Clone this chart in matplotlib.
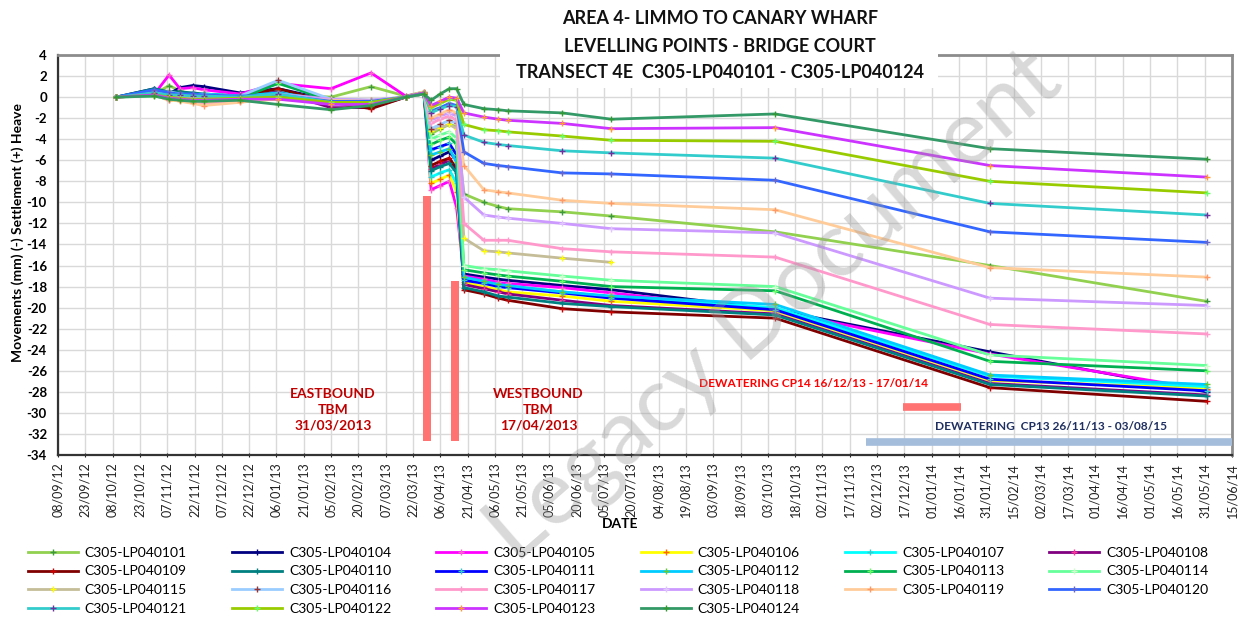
import matplotlib
matplotlib.use("Agg")
import matplotlib.pyplot as plt
import numpy as np
import pandas as pd
from matplotlib.patches import Rectangle

plt.rcParams['font.family'] = ['Lato', 'DejaVu Sans']

# ---------------- data ----------------
survey_dates = pd.to_datetime([
    "2012-10-10", "2012-10-31", "2012-11-08", "2012-11-14", "2012-11-21",
    "2012-11-27", "2012-12-17", "2013-01-07", "2013-02-05", "2013-02-27",
    "2013-03-18", "2013-03-28", "2013-04-01", "2013-04-06", "2013-04-11",
    "2013-04-15", "2013-04-19", "2013-04-30", "2013-05-08", "2013-05-13",
    "2013-06-12", "2013-07-09", "2013-10-07", "2014-02-02", "2014-06-01"])

nan = np.nan
lp101 = [0, 0.3, 1.1, 0.6, 0.2, 0.0, 0.0, 0.3, 0.0, 1.0, 0.1, 0.5, -3.5, -3.0, -2.6, -2.8, -9.2, -10.0, -10.4, -10.6, -10.9, -11.3, -12.8, -16.0, -19.4]
lp104 = [0, 0.8, 0.3, 0.9, 1.1, 1.0, 0.4, 0.8, -0.3, -0.5, 0.0, 0.4, -6.0, -5.6, -5.2, -6.0, -16.8, -17.1, -17.3, -17.4, -17.9, -18.3, -20.2, -24.2, -28.0]
lp105 = [0, 0.3, 2.1, 0.8, 0.9, 0.7, 0.3, 1.3, 0.8, 2.3, 0.1, 0.4, -8.8, -8.4, -8.0, -10.5, -17.0, -17.3, -17.6, -17.7, -18.1, -18.6, -20.3, -24.4, -27.8]
lp106 = [0, 0.2, -0.3, -0.3, -0.2, -0.5, -0.4, -0.2, -0.5, -0.6, 0.0, 0.4, -8.2, -7.8, -7.4, -9.0, -17.6, -18.0, -18.3, -18.5, -18.9, -19.4, -20.3, -26.9, -27.7]
lp107 = [0, 0.4, 0.3, 0.2, 0.1, 0.2, 0.0, 0.6, -0.3, -0.4, 0.0, 0.4, -7.6, -7.2, -6.9, -8.2, -17.2, -17.6, -17.9, -18.0, -18.5, -19.0, -20.0, -26.5, -27.5]
lp108 = [0, 0.3, 0.0, 0.0, 0.3, 0.2, 0.0, 0.5, -1.0, -1.0, 0.0, 0.3, -6.8, -6.4, -6.0, -7.0, -17.8, -18.2, -18.5, -18.7, -19.3, -19.8, -20.6, -27.2, -28.3]
lp109 = [0, 0.5, 0.3, 0.4, 0.3, 0.2, 0.1, 0.8, -0.5, -1.1, 0.0, 0.4, -6.5, -6.1, -5.8, -6.8, -18.3, -18.7, -19.1, -19.3, -20.1, -20.4, -21.0, -27.6, -28.9]
lp110 = [0, 0.8, 0.5, 0.5, 0.4, 0.3, 0.1, 0.2, -0.4, -0.6, 0.0, 0.4, -7.0, -6.6, -6.3, -7.2, -18.1, -18.5, -18.9, -19.0, -19.6, -19.9, -20.7, -27.3, -28.4]
lp111 = [0, 0.5, 0.2, 0.1, 0.3, 0.1, 0.0, 0.3, -0.5, -0.5, 0.0, 0.4, -5.0, -4.7, -4.4, -5.5, -17.4, -17.7, -18.0, -18.1, -18.6, -19.1, -20.2, -26.8, -27.9]
lp112 = [0, 0.6, 0.4, 0.3, 0.2, 0.3, 0.1, 0.4, -0.3, -0.4, 0.0, 0.4, -5.5, -5.2, -4.9, -6.2, -17.1, -17.5, -17.8, -17.9, -18.5, -18.9, -19.7, -26.4, -27.3]
lp113 = [0, 0.2, 0.0, -0.2, -0.3, -0.2, -0.1, 1.3, -0.3, -0.5, 0.0, 0.3, -4.5, -4.1, -3.8, -4.5, -16.4, -16.7, -16.9, -17.0, -17.5, -18.0, -18.4, -25.1, -26.0]
lp114 = [0, 0.1, -0.2, -0.3, -0.4, -0.4, -0.2, 0.0, -0.6, -0.7, 0.0, 0.3, -4.0, -3.6, -3.3, -3.9, -16.0, -16.3, -16.4, -16.5, -17.0, -17.4, -18.0, -24.5, -25.5]
lp115 = [0, 0.2, 0.0, 0.0, -0.1, -0.2, 0.0, 0.0, -0.2, -0.3, 0.0, 0.3, -3.2, -2.9, -2.6, -3.0, -13.4, -14.6, -14.7, -14.8, -15.3, -15.7, nan, nan, nan]
lp116 = [0, 0.4, 0.5, 0.3, 0.2, 0.2, 0.1, 1.6, -0.2, -0.3, 0.0, 0.4, -3.0, -2.6, -2.2, -2.5, nan, nan, nan, nan, nan, nan, nan, nan, nan]
lp117 = [0, 0.2, -0.3, -0.2, -0.5, -0.7, -0.4, 0.0, -0.4, -0.5, 0.0, 0.5, -2.5, -2.1, -1.8, -2.2, -12.0, -13.6, -13.6, -13.6, -14.4, -14.7, -15.2, -21.6, -22.5]
lp118 = [0, 0.3, 0.1, 0.1, 0.0, -0.2, -0.1, 0.3, -0.2, -0.3, 0.0, 0.4, -2.2, -1.8, -1.5, -1.8, -9.5, -11.2, -11.4, -11.5, -12.0, -12.5, -12.9, -19.1, -19.8]
lp119 = [0, 0.2, -0.2, -0.4, -0.6, -0.8, -0.5, -0.1, -0.3, -0.4, 0.0, 0.5, -2.0, -1.6, -1.2, -1.5, -6.5, -8.8, -9.0, -9.1, -9.8, -10.1, -10.7, -16.2, -17.1]
lp120 = [0, 0.7, 0.4, 0.3, 0.3, 0.2, 0.1, 0.2, -0.4, -0.4, 0.0, 0.4, -1.3, -1.0, -0.6, -0.8, -5.2, -6.3, -6.5, -6.6, -7.2, -7.3, -7.9, -12.8, -13.8]
lp121 = [0, 0.4, 0.2, 0.2, 0.1, 0.1, 0.0, 0.3, -0.5, -0.5, 0.0, 0.4, -1.5, -1.1, -0.8, -0.9, -3.6, -4.3, -4.5, -4.6, -5.1, -5.3, -5.8, -10.1, -11.2]
lp122 = [0, 0.2, 0.0, -0.1, -0.2, -0.2, -0.1, 0.0, -0.5, -0.5, 0.0, 0.4, -1.0, -0.6, -0.2, -0.3, -2.6, -3.1, -3.2, -3.3, -3.7, -4.1, -4.2, -8.0, -9.1]
lp123 = [0, 0.2, -0.1, -0.2, -0.3, -0.3, -0.2, -0.2, -0.7, -0.7, 0.0, 0.4, -0.8, -0.4, 0.0, -0.1, -1.5, -1.9, -2.1, -2.2, -2.5, -3.0, -2.9, -6.5, -7.6]
lp124 = [0, 0.1, -0.2, -0.3, -0.4, -0.4, -0.3, -0.7, -1.2, -0.8, 0.0, 0.3, -0.3, 0.3, 0.8, 0.8, -0.7, -1.1, -1.2, -1.3, -1.5, -2.1, -1.6, -4.9, -5.9]

series_labels = ["C305-LP040101", "C305-LP040104", "C305-LP040105", "C305-LP040106",
                 "C305-LP040107", "C305-LP040108", "C305-LP040109", "C305-LP040110",
                 "C305-LP040111", "C305-LP040112", "C305-LP040113", "C305-LP040114",
                 "C305-LP040115", "C305-LP040116", "C305-LP040117", "C305-LP040118",
                 "C305-LP040119", "C305-LP040120", "C305-LP040121", "C305-LP040122",
                 "C305-LP040123", "C305-LP040124"]
series_values = [lp101, lp104, lp105, lp106, lp107, lp108, lp109, lp110, lp111, lp112,
                 lp113, lp114, lp115, lp116, lp117, lp118, lp119, lp120, lp121, lp122,
                 lp123, lp124]
line_colors = ["#92D050", "#000080", "#FF00FF", "#FFFF00", "#00FFFF", "#800080",
               "#800000", "#008080", "#0000FF", "#00CCFF", "#00B050", "#66FF99",
               "#C4BD97", "#99CCFF", "#FF99CC", "#CC99FF", "#FFCC99", "#3366FF",
               "#33CCCC", "#99CC00", "#CC33FF", "#339966"]
marker_colors = ["#3C9A3C", "#000080", "#FF66CC", "#FF6600", "#33CCCC", "#FF3399",
                 "#CC0000", "#008080", "#33CCCC", "#66CC33", "#66FF66", "#CCFFCC",
                 "#FFFF00", "#993333", "#FF99CC", "#E0C8FF", "#FF9966", "#6666CC",
                 "#7030A0", "#66FF66", "#FF9933", "#339933"]

tick_start = "2012-09-08"
tick_end = "2014-06-15"
y_ticks = list(range(-34, 5, 2))

tbm_dates = pd.to_datetime(["2013-03-30", "2013-04-14"])
tbm_bar_tops = [-9.4, -17.5]
tbm_bar_bottom = -32.7
tbm_texts = ["EASTBOUND\nTBM\n31/03/2013", "WESTBOUND\nTBM\n17/04/2013"]
tbm_text_dates = pd.to_datetime(["2013-02-06", "2013-05-30"])

cp14_span = pd.to_datetime(["2013-12-16", "2014-01-17"])
cp14_level = -29.4
cp13_span = pd.to_datetime(["2013-11-26", "2015-08-03"])
cp13_level = -32.8

# ---------------- figure ----------------
W, H = 1242, 617
fig = plt.figure(figsize=(W / 100, H / 100), dpi=100)
ax = fig.add_axes([58 / W, 1 - 455 / H, (1232 - 58) / W, 400 / H])

handles = []
for vals, lab, lc, mc in zip(series_values, series_labels, line_colors, marker_colors):
    h, = ax.plot(survey_dates, vals, color=lc, lw=2.0, marker='+', ms=5,
                 mec=mc, mew=1.0, label=lab, zorder=3)
    handles.append(h)

# TBM bars
bar_w = 4.4
for d, top in zip(tbm_dates, tbm_bar_tops):
    ax.bar(d, top - tbm_bar_bottom, bottom=tbm_bar_bottom, width=bar_w,
           color="#FF7373", edgecolor='none', zorder=4)

for d, t in zip(tbm_text_dates, tbm_texts):
    ax.text(d, -29.7, t, ha='center', va='center', color="#C00000",
            fontsize=10, fontweight='bold', linespacing=1.35, zorder=5)

ax.plot(cp14_span, [cp14_level, cp14_level], color="#FF7373", lw=5.5,
        solid_capstyle='butt', zorder=4)
ax.plot(cp13_span, [cp13_level, cp13_level], color="#A4BDDB", lw=5.5,
        solid_capstyle='butt', zorder=4)
ax.text(pd.Timestamp("2013-08-26"), -27.2, "DEWATERING CP14 16/12/13 - 17/01/14",
        color="#FF0000", fontsize=8.6, fontweight='bold', ha='left', va='center', zorder=5)
ax.text(pd.Timestamp("2014-01-03"), -31.3, "DEWATERING  CP13 26/11/13 - 03/08/15",
        color="#1F2F60", fontsize=8.6, fontweight='bold', ha='left', va='center', zorder=5)

# axes formatting
ticks = pd.date_range(tick_start, tick_end, freq='15D')
ax.set_xlim(pd.Timestamp(tick_start), pd.Timestamp(tick_end))
ax.set_xticks(ticks)
ax.set_xticklabels([t.strftime('%d/%m/%y') for t in ticks], rotation=90, fontsize=9)
ax.set_ylim(-34, 4)
ax.set_yticks(y_ticks)
ax.set_yticklabels([str(v) for v in y_ticks], fontsize=9.5, fontweight='bold')
ax.tick_params(axis='x', length=3, direction='inout', pad=4, colors='#222222')
ax.tick_params(axis='y', length=0, pad=8)
ax.grid(True, color='#D9D9D9', lw=1.0, zorder=0)
ax.set_axisbelow(True)
for s in ['left', 'bottom']:
    ax.spines[s].set_color('#333333')
    ax.spines[s].set_linewidth(1.6)
for s in ['top', 'right']:
    ax.spines[s].set_color('#8C8C8C')
    ax.spines[s].set_linewidth(2.0)

fig.text(18 / W, 1 - 232 / H, "Movements (mm) (-) Settlement (+) Heave", rotation=90,
         ha='center', va='center', fontsize=10, fontweight='bold')
fig.text(620 / W, 1 - 524 / H, "DATE", ha='center', va='center', fontsize=10,
         fontweight='bold')

# title box
fig.add_artist(Rectangle((500 / W, 1 - 88 / H), 438 / W, 88 / H, transform=fig.transFigure,
                         facecolor='white', edgecolor='none', zorder=6))
for y, t in zip([18, 46, 72], ["AREA 4- LIMMO TO CANARY WHARF",
                               "LEVELLING POINTS - BRIDGE COURT",
                               "TRANSECT 4E  C305-LP040101 - C305-LP040124"]):
    fig.text(720 / W, 1 - y / H, t, ha='center', va='center', fontsize=13,
             fontweight='bold', color='#111111', zorder=7)

# legend (row-major order in 6 columns)
order = [0, 6, 12, 18, 1, 7, 13, 19, 2, 8, 14, 20, 3, 9, 15, 21, 4, 10, 16, 5, 11, 17]
fig.legend([handles[i] for i in order], [series_labels[i] for i in order], ncol=6,
           loc='upper left', bbox_to_anchor=(18 / W, 1 - 537 / H), frameon=False,
           fontsize=10, handlelength=3.6, handletextpad=0.5, columnspacing=3.25,
           labelspacing=0.48, borderpad=0.2)

# watermark
fig.text(775 / W, 1 - 308 / H, "Legacy Document", rotation=41, ha='center', va='center',
         fontsize=66, color='#9A9A9A', alpha=0.38, zorder=10)

fig.savefig("out.png", dpi=100)
